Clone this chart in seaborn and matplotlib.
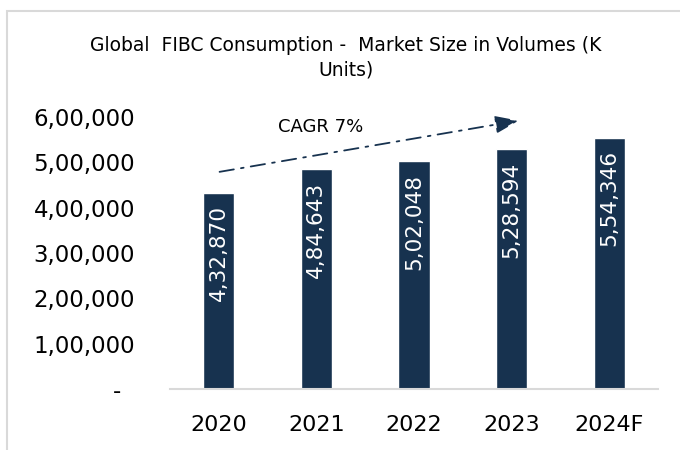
import matplotlib
matplotlib.use("Agg")
import matplotlib.pyplot as plt
import seaborn as sns
import pandas as pd
from matplotlib.patches import Rectangle

# Données
annees = ["2020", "2021", "2022", "2023", "2024F"]
volumes = [432870, 484643, 502048, 528594, 554346]
ticks_y = [0, 100000, 200000, 300000, 400000, 500000, 600000]
labels_y = ["-  ", "1,00,000", "2,00,000", "3,00,000", "4,00,000", "5,00,000", "6,00,000"]
labels_barres = ["4,32,870", "4,84,643", "5,02,048", "5,28,594", "5,54,346"]
titre = "Global  FIBC Consumption -  Market Size in Volumes (K\nUnits)"
texte_cagr = "CAGR 7%"

df = pd.DataFrame({"Annee": annees, "Volume": volumes})

sns.set_style("white")
plt.rcParams["font.family"] = ["DejaVu Sans"]
plt.rcParams["text.color"] = "black"
plt.rcParams["xtick.color"] = "black"
plt.rcParams["ytick.color"] = "black"

couleur = "#17324f"

fig = plt.figure(figsize=(6.8, 4.5), dpi=100)
ax = fig.add_axes([170 / 680, 61 / 450, 488 / 680, 272 / 450])

sns.barplot(data=df, x="Annee", y="Volume", color=couleur, width=0.32,
            saturation=1, ax=ax)

ax.set_ylim(0, 600000)
ax.set_xlim(-0.5, 4.5)
ax.set_yticks(ticks_y)
ax.set_yticklabels(labels_y, fontsize=16.5)
ax.tick_params(axis="y", length=0, pad=25)
ax.tick_params(axis="x", length=0, pad=19, labelsize=16)
ax.set_xlabel("")
ax.set_ylabel("")
for s in ["top", "right", "left"]:
    ax.spines[s].set_visible(False)
ax.spines["bottom"].set_color("#d9d9d9")
ax.spines["bottom"].set_linewidth(1.5)

# Étiquettes dans les barres
for i, (v, lab) in enumerate(zip(volumes, labels_barres)):
    ax.annotate(lab, xy=(i, v), xytext=(0, -9), textcoords="offset points",
                rotation=90, ha="center", va="top", color="white", fontsize=15.5)

# Flèche CAGR
ax.annotate("", xy=(3.10, 593000), xytext=(-0.02, 478000),
            arrowprops=dict(arrowstyle="-|>,head_length=0.8,head_width=0.3",
                            color=couleur, lw=1.3,
                            linestyle=(0, (8, 4, 1.5, 4)), mutation_scale=18))
ax.text(1.04, 578000, texte_cagr, ha="center", va="center", fontsize=13)

# Titre
fig.text(346 / 680, 1 - 58 / 450, titre, ha="center", va="center",
         fontsize=13.5, linespacing=1.4)

# Cadre gris
fig.patches.append(Rectangle((7 / 680, -0.1), 1.0, 1 - 11 / 450 + 0.1,
                             transform=fig.transFigure, fill=False,
                             edgecolor="#d9d9d9", linewidth=1.5))

fig.savefig("out.png", dpi=100)
